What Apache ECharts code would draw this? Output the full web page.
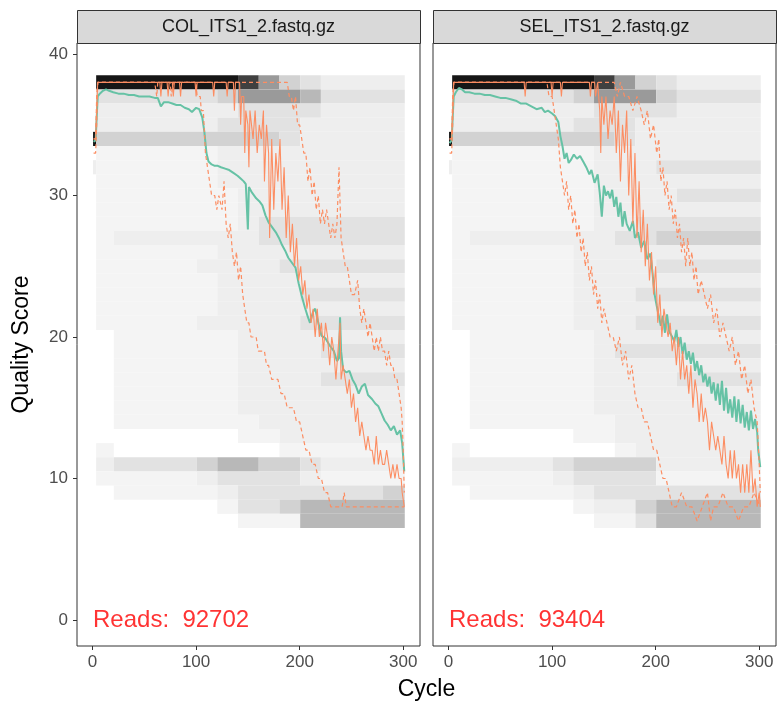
<!DOCTYPE html>
<html>
<head>
<meta charset="utf-8">
<script src="https://cdn.jsdelivr.net/npm/echarts@6/dist/echarts.min.js"></script>
<style>html,body{margin:0;padding:0;background:#fff;}#chart{width:778px;height:708px;}</style>
</head>
<body>
<div id="chart"></div>
<script>
// ---------------- DATA ----------------
const panelNames = ['COL_ITS1_2.fastq.gz', 'SEL_ITS1_2.fastq.gz'];
const reads = [92702, 93404];
const xTicks = [0, 100, 200, 300];
const yTicks = [0, 10, 20, 30, 40];

// cycle segments used for the read-count heat bands
const segStart = [1, 4, 21, 41, 61, 81, 101, 121, 141, 161, 181, 201, 221, 241, 261, 281];
const segEnd   = [3, 20, 40, 60, 80, 100, 120, 140, 160, 180, 200, 220, 240, 260, 280, 301];
const scoreRows = [38,37,36,35,34,33,32,31,30,29,28,27,26,25,24,23,22,21,20,19,18,17,16,15,14,13,12,11,10,9,8,7,6,5,4,3,2];

// relative read-count level (0 = none ... 9 = most reads) per score row and cycle segment
const colHeat = [
  [0,9,9,9,9,9,9,9,8,6,4,3,2,2,2,2],
  [0,3,3,3,3,3,3,4,6,6,6,5,3,3,3,3],
  [0,2,2,2,2,2,2,2,3,3,3,3,2,2,2,2],
  [0,2,2,2,2,2,2,3,3,3,3,2,2,2,2,2],
  [9,4,4,4,4,4,4,4,4,4,3,2,2,2,2,2],
  [0,1,1,1,1,1,1,2,2,2,2,2,2,2,2,2],
  [2,1,1,1,1,1,1,2,2,2,2,2,2,2,2,2],
  [0,1,1,1,1,1,1,2,2,2,2,2,2,2,2,2],
  [0,1,1,1,1,1,1,1,2,2,2,2,2,2,2,2],
  [0,1,1,1,1,1,1,1,2,2,2,2,2,2,2,2],
  [0,1,1,1,1,1,1,1,2,3,3,3,3,3,3,3],
  [0,1,2,2,2,2,2,2,2,3,3,3,3,3,3,3],
  [0,1,1,1,1,1,1,2,2,2,2,2,2,2,2,2],
  [0,1,1,1,1,1,2,2,2,2,3,3,3,3,3,3],
  [0,1,1,1,1,1,1,2,2,2,2,2,2,2,2,2],
  [0,1,1,1,1,1,1,2,2,2,2,3,3,3,3,3],
  [0,1,1,1,1,1,1,2,2,2,2,2,2,2,2,2],
  [0,1,1,1,1,1,2,2,2,2,2,3,3,3,3,3],
  [0,0,1,1,1,1,1,1,2,2,2,2,2,2,2,2],
  [0,0,1,1,1,1,1,1,2,2,2,2,3,3,3,3],
  [0,0,1,1,1,1,1,1,2,2,2,2,2,2,2,2],
  [0,0,1,1,1,1,1,1,2,2,2,2,3,3,3,3],
  [0,0,1,1,1,1,1,1,2,2,2,2,2,2,2,2],
  [0,0,1,1,1,1,1,1,2,2,2,2,2,2,2,2],
  [0,0,1,1,1,1,1,1,1,2,2,2,2,2,2,2],
  [0,0,0,0,0,0,0,0,1,1,2,2,2,2,2,2],
  [0,1,0,0,0,0,0,0,0,0,1,1,1,1,1,1],
  [0,2,3,3,3,3,4,5,5,4,4,3,2,2,2,2],
  [0,1,1,1,1,1,2,3,3,3,3,2,1,1,1,1],
  [0,0,1,1,1,1,1,2,3,3,3,3,3,3,3,4],
  [0,0,0,0,0,0,0,1,3,3,4,5,5,5,5,5],
  [0,0,0,0,0,0,0,0,1,1,1,5,5,5,5,5],
  [0,0,0,0,0,0,0,0,0,0,0,0,0,0,0,0],
  [0,0,0,0,0,0,0,0,0,0,0,0,0,0,0,0],
  [0,0,0,0,0,0,0,0,0,0,0,0,0,0,0,0],
  [0,0,0,0,0,0,0,0,0,0,0,0,0,0,0,0],
  [0,0,0,0,0,0,0,0,0,0,0,0,0,0,0,0]
];
const selHeat = [
  [0,9,9,9,9,9,9,9,8,6,4,3,2,2,2,2],
  [0,3,3,3,3,3,3,4,6,6,6,4,3,3,3,3],
  [0,2,2,2,2,2,2,2,3,3,3,3,2,2,2,2],
  [0,2,2,2,2,2,2,3,3,3,2,2,2,2,2,2],
  [9,4,4,4,4,4,4,4,4,3,2,2,2,2,2,2],
  [0,1,1,1,1,1,1,1,2,2,2,2,2,2,2,2],
  [2,1,1,1,1,1,1,1,2,2,2,3,3,3,3,3],
  [0,1,1,1,1,1,1,1,2,2,2,2,2,2,2,2],
  [0,1,1,1,1,1,1,1,2,2,2,2,3,3,3,3],
  [0,1,1,1,1,1,1,1,2,2,2,2,2,2,2,2],
  [0,1,1,1,1,1,1,1,2,2,3,3,3,3,3,3],
  [0,1,2,2,2,2,2,2,2,3,3,4,4,4,4,4],
  [0,1,1,1,1,1,1,2,2,2,2,2,2,2,2,2],
  [0,1,1,1,1,1,1,2,2,2,2,3,3,3,3,3],
  [0,1,1,1,1,1,1,2,2,2,2,2,2,2,2,2],
  [0,1,1,1,1,1,1,2,2,2,3,3,3,3,3,3],
  [0,1,1,1,1,1,1,2,2,2,2,2,2,2,2,2],
  [0,1,1,1,1,1,1,2,2,2,3,3,3,3,3,3],
  [0,0,1,1,1,1,1,1,2,2,2,2,2,2,2,2],
  [0,0,1,1,1,1,1,1,2,3,3,3,3,3,3,3],
  [0,0,1,1,1,1,1,1,2,2,2,2,2,2,2,2],
  [0,0,1,1,1,1,1,1,2,2,2,2,3,3,3,3],
  [0,0,1,1,1,1,1,1,2,2,2,2,2,2,2,2],
  [0,0,1,1,1,1,1,1,2,2,2,2,2,2,2,2],
  [0,0,1,1,1,1,1,1,1,2,2,2,2,2,2,2],
  [0,0,0,0,0,0,0,1,1,2,2,2,2,2,2,2],
  [0,1,0,0,0,0,0,0,0,1,2,2,2,2,2,2],
  [0,2,2,2,2,2,3,4,4,4,4,2,2,2,2,2],
  [0,1,1,1,1,1,2,3,3,3,3,1,1,1,1,1],
  [0,0,1,1,1,1,1,2,3,3,3,3,3,3,3,3],
  [0,0,0,0,0,0,0,1,2,2,4,5,5,5,5,5],
  [0,0,0,0,0,0,0,0,1,1,3,5,5,5,5,5],
  [0,0,0,0,0,0,0,0,0,0,0,0,0,0,0,0],
  [0,0,0,0,0,0,0,0,0,0,0,0,0,0,0,0],
  [0,0,0,0,0,0,0,0,0,0,0,0,0,0,0,0],
  [0,0,0,0,0,0,0,0,0,0,0,0,0,0,0,0],
  [0,0,0,0,0,0,0,0,0,0,0,0,0,0,0,0]
];

// [cycle, score] pairs
const colMean = [[1,33.8],[2,33.9],[3,33.9],[4,35.5],[5,37.0],[7,37.2],[10,37.4],[13,37.5],[16,37.4],[20,37.3],[25,37.2],[30,37.2],[35,37.1],[40,37.1],[45,37.0],[50,37.0],[55,37.0],[60,36.9],[63,36.9],[66,36.3],[69,36.6],[73,36.6],[77,36.5],[81,36.4],[85,36.4],[89,36.2],[93,36.1],[96,35.9],[100,36.2],[103,36.1],[106,35.5],[108,34.5],[110,33.0],[112,32.4],[115,32.2],[118,32.1],[121,32.1],[124,32.0],[128,31.9],[132,31.8],[136,31.6],[140,31.4],[143,31.2],[146,31.0],[148,30.8],[150,27.6],[151,30.6],[154,30.2],[158,29.8],[161,29.6],[164,29.3],[167,28.6],[170,28.1],[173,27.8],[177,27.4],[180,27.0],[183,26.5],[186,26.1],[189,25.6],[192,25.3],[196,24.9],[199,23.8],[202,22.9],[205,22.1],[208,21.4],[210,21.0],[213,21.8],[215,22.0],[218,21.0],[221,20.1],[225,19.9],[229,19.4],[233,19.0],[236,18.3],[238,18.5],[239,21.4],[240,19.0],[242,17.7],[245,17.5],[248,17.6],[251,17.0],[254,16.6],[257,16.0],[260,16.5],[263,16.7],[266,15.9],[270,15.6],[273,15.3],[276,15.1],[279,14.6],[282,14.1],[285,13.8],[288,13.4],[291,13.7],[294,13.1],[297,13.4],[299,12.5],[301,10.5]];
const colQ50 = [[1,34],[3,34],[4,36],[5,38],[65,38],[66,37],[67,38],[72,38],[73,37],[74,38],[77,38],[78,37],[79,38],[84,38],[85,37],[86,38],[99,38],[100,37],[101,38],[116,38],[117,37],[118,38],[129,38],[130,37],[131,38],[136,38],[137,36],[138,38],[142,38],[143,35],[144,37],[146,37],[147,33],[148,36],[150,35],[151,32],[152,36],[155,34],[157,36],[159,33],[161,35],[163,34],[165,36],[166,31],[168,35],[170,33],[171,27],[173,34],[175,29],[177,33],[179,31],[181,34],[183,29],[185,32],[187,27],[189,30],[191,26],[193,28],[195,25],[197,27],[199,24],[201,25],[203,23],[205,24],[207,22],[209,23],[211,21],[213,22],[215,20],[217,22],[219,20],[221,21],[223,19],[225,21],[227,20],[229,18],[231,20],[233,19],[235,17],[237,19],[239,21],[240,17],[242,18],[244,17],[246,16],[248,17],[250,15],[252,16],[254,14],[256,15],[258,13],[260,14],[262,13],[264,12],[266,13],[268,12],[270,12],[272,11],[274,13],[276,11],[278,12],[280,11],[282,11],[284,12],[286,11],[288,10],[290,11],[292,10],[294,11],[296,10],[298,10],[299,9],[301,8]];
const colQ25 = [[1,33],[3,33],[4,35],[5,38],[60,38],[62,37],[63,38],[75,38],[76,37],[78,38],[100,38],[101,37],[104,37],[105,36],[107,36],[109,33],[111,32],[113,31],[115,30],[118,30],[120,29],[122,30],[125,29],[127,31],[129,28],[131,27],[133,28],[135,26],[137,25],[139,26],[141,24],[143,25],[145,23],[147,22],[149,21],[151,21],[153,20],[155,20],[158,20],[160,19],[163,19],[166,19],[168,18],[170,18],[173,17],[176,17],[179,17],[182,16],[185,16],[188,15],[191,15],[194,15],[197,14],[200,14],[203,13],[206,12],[209,12],[212,11],[215,11],[218,10],[221,10],[224,9],[227,9],[230,8],[236,8],[241,8],[243,9],[245,8],[250,8],[260,8],[270,8],[280,8],[290,8],[301,8]];
const colQ75 = [[1,34],[3,34],[4,37],[5,38],[188,38],[190,37],[192,37],[194,36],[196,37],[198,35],[200,35],[202,34],[204,33],[206,33],[208,31],[210,32],[212,30],[214,31],[216,29],[218,30],[220,28],[222,29],[224,28],[226,29],[228,28],[230,27],[232,28],[234,27],[236,28],[238,32],[240,27],[242,26],[244,25],[246,25],[248,24],[250,23],[253,23],[256,24],[258,22],[260,21],[262,22],[264,21],[266,20],[268,21],[270,20],[272,19],[274,20],[276,19],[278,20],[280,19],[282,19],[284,18],[286,19],[288,18],[290,18],[292,17],[294,17],[296,16],[298,15],[299,14],[300,12],[301,9]];

const selMean = [[1,33.7],[2,33.8],[3,33.9],[4,35.5],[5,37.0],[7,37.3],[10,37.6],[13,37.5],[16,37.3],[20,37.3],[25,37.2],[30,37.2],[35,37.1],[40,37.1],[45,37.0],[50,36.9],[55,36.9],[60,36.8],[65,36.7],[70,36.5],[75,36.5],[80,36.3],[85,36.1],[90,36.2],[93,35.9],[96,36.0],[100,35.8],[103,35.6],[106,35.2],[108,34.2],[110,33.5],[112,32.6],[114,33.0],[116,32.3],[118,32.5],[121,32.9],[124,32.6],[127,32.8],[130,32.4],[133,32.0],[136,31.5],[138,31.8],[141,30.9],[144,31.5],[146,30.2],[148,28.5],[150,30.7],[152,30.0],[154,30.3],[156,29.8],[158,30.4],[160,29.2],[162,29.9],[164,28.5],[166,29.5],[168,27.8],[170,28.9],[172,28.0],[175,27.5],[178,28.2],[180,27.0],[183,27.4],[186,26.3],[189,26.8],[192,25.5],[195,25.9],[197,24.5],[199,23.0],[201,22.2],[203,21.5],[205,20.8],[207,21.5],[209,20.3],[211,21.6],[213,20.4],[216,20.0],[218,19.7],[220,20.5],[222,19.3],[224,20.0],[226,18.8],[228,19.6],[230,18.4],[232,19.0],[234,18.1],[236,18.9],[238,17.6],[240,18.3],[242,17.3],[244,18.0],[246,16.8],[248,17.4],[250,16.5],[252,17.2],[254,16.0],[256,16.8],[258,15.5],[260,16.7],[262,15.2],[264,16.9],[266,14.8],[268,16.4],[270,14.6],[272,15.6],[274,14.3],[276,15.8],[278,14.0],[280,15.6],[282,13.9],[284,15.2],[286,13.6],[288,14.7],[290,13.4],[292,14.8],[294,13.5],[296,14.2],[298,13.3],[299,12.0],[301,10.8]];
const selQ50 = [[1,34],[3,34],[4,36],[5,38],[73,38],[74,37],[75,38],[99,38],[100,37],[101,38],[108,38],[109,37],[110,38],[136,38],[137,37],[138,38],[141,38],[142,37],[144,38],[146,36],[147,33],[148,37],[150,35],[152,37],[154,34],[156,36],[158,35],[160,37],[162,33],[164,36],[166,31],[168,35],[170,33],[172,36],[174,30],[176,34],[178,28],[180,33],[182,27],[184,31],[186,26],[188,29],[190,25],[192,28],[194,24],[196,26],[198,23],[200,25],[202,21],[204,23],[206,20],[208,22],[210,21],[212,20],[214,21],[216,19],[218,20],[220,18],[222,20],[224,17],[226,19],[228,17],[230,18],[232,16],[234,18],[236,15],[238,17],[240,16],[242,14],[244,16],[246,14],[248,15],[250,14],[252,12],[254,14],[256,13],[258,12],[260,13],[262,12],[264,11],[266,13],[268,11],[270,10],[272,12],[274,10],[276,12],[278,10],[280,11],[282,9],[284,11],[286,9],[288,11],[290,9],[292,12],[294,9],[296,10],[298,8],[300,9],[301,8]];
const selQ25 = [[1,33],[3,33],[4,35],[5,38],[95,38],[97,37],[100,37],[102,36],[104,35],[106,34],[108,32],[110,31],[112,30],[114,31],[116,29],[118,30],[120,28],[122,29],[124,27],[126,28],[128,26],[130,27],[132,25],[134,26],[136,24],[138,25],[140,23],[142,24],[144,22],[146,23],[148,21],[150,22],[153,21],[156,20],[159,20],[162,19],[165,20],[168,18],[171,19],[174,17],[177,18],[180,16],[183,15],[186,15],[189,14],[192,14],[195,13],[198,12],[201,12],[204,11],[207,10],[210,10],[213,9],[216,8],[220,8],[225,9],[230,8],[235,8],[240,7],[245,8],[250,9],[253,7],[256,8],[260,8],[265,9],[270,8],[275,8],[280,7],[285,8],[290,8],[295,9],[301,8]];
const selQ75 = [[1,34],[3,34],[4,37],[5,38],[160,38],[163,37],[166,38],[170,37],[174,37],[178,36],[182,37],[186,36],[189,35],[192,36],[195,34],[198,35],[201,33],[203,34],[205,31],[207,32],[209,30],[211,31],[213,29],[215,30],[217,28],[219,29],[221,27],[223,28],[225,26],[227,27],[229,25],[231,27],[233,25],[235,26],[237,24],[239,25],[241,23],[244,24],[247,23],[250,22],[253,23],[256,21],[259,22],[262,20],[265,21],[268,20],[271,19],[274,20],[277,18],[280,19],[283,17],[286,18],[289,16],[292,17],[295,15],[298,14],[300,11],[301,9]];

// ---------------- CHART ----------------
const FONT = 'Liberation Sans, Arial, Helvetica, sans-serif';
const levelColors = ['none','#F4F4F4','#EEEEEE','#E2E2E2','#D2D2D2','#B8B8B8','#9A9A9A','#6E6E6E','#404040','#161616'];
const heats = [colHeat, selHeat];
const means = [colMean, selMean];
const q25s = [colQ25, selQ25];
const q50s = [colQ50, selQ50];
const q75s = [colQ75, selQ75];

const panelLeft = [77, 433];
const panelW = 343;
const panelTop = 43;
const panelH = 603;
const stripTop = 10;

function heatData(h) {
  const out = [];
  h.forEach((row, r) => {
    let j = 0;
    while (j < row.length) {
      const lv = row[j];
      let k = j;
      while (k + 1 < row.length && row[k + 1] === lv) k++;
      if (lv > 0) out.push([segStart[j], segEnd[k], scoreRows[r], lv]);
      j = k + 1;
    }
  });
  return out;
}

function renderHeat(params, api) {
  const p1 = api.coord([api.value(0) - 0.5, api.value(2) + 0.5]);
  const p2 = api.coord([api.value(1) + 0.5, api.value(2) - 0.5]);
  return {
    type: 'rect',
    shape: { x: p1[0], y: p1[1], width: p2[0] - p1[0], height: p2[1] - p1[1] },
    style: { fill: levelColors[api.value(3)] }
  };
}

const grids = [], xAxes = [], yAxes = [], series = [], graphics = [];
for (let i = 0; i < 2; i++) {
  grids.push({ left: panelLeft[i], top: panelTop, width: panelW, height: panelH, show: true,
    borderColor: '#333333', borderWidth: 1, backgroundColor: '#ffffff', containLabel: false });
  xAxes.push({ type: 'value', gridIndex: i, min: -15, max: 316.2, position: 'bottom',
    axisLine: { show: false, onZero: false },
    axisTick: { show: true, length: 4, lineStyle: { color: '#333333' }, customValues: xTicks },
    axisLabel: { show: true, color: '#4D4D4D', fontSize: 17, fontFamily: FONT, margin: 8, customValues: xTicks },
    splitLine: { show: false } });
  yAxes.push({ type: 'value', gridIndex: i, min: -1.84, max: 40.78, position: 'left',
    axisLine: { show: false, onZero: false },
    axisTick: { show: i === 0, length: 4, lineStyle: { color: '#333333' }, customValues: yTicks },
    axisLabel: { show: i === 0, color: '#4D4D4D', fontSize: 17, fontFamily: FONT, margin: 9, customValues: yTicks },
    splitLine: { show: false } });
  series.push({ type: 'custom', xAxisIndex: i, yAxisIndex: i, renderItem: renderHeat,
    data: heatData(heats[i]), encode: { x: [0, 1], y: 2 }, silent: true, z: 1, clip: true });
  series.push({ type: 'line', xAxisIndex: i, yAxisIndex: i, data: means[i], showSymbol: false, symbol: 'none',
    lineStyle: { color: '#66C2A5', width: 2 }, z: 3 });
  series.push({ type: 'line', xAxisIndex: i, yAxisIndex: i, data: q25s[i], showSymbol: false, symbol: 'none',
    lineStyle: { color: '#FC8D62', width: 1.2, type: [4, 3] }, z: 4 });
  series.push({ type: 'line', xAxisIndex: i, yAxisIndex: i, data: q50s[i], showSymbol: false, symbol: 'none',
    lineStyle: { color: '#FC8D62', width: 1.1 }, z: 4 });
  series.push({ type: 'line', xAxisIndex: i, yAxisIndex: i, data: q75s[i], showSymbol: false, symbol: 'none',
    lineStyle: { color: '#FC8D62', width: 1.2, type: [4, 3] }, z: 4 });
  series.push({ type: 'scatter', xAxisIndex: i, yAxisIndex: i, data: [[0, 0]], symbolSize: 1,
    itemStyle: { color: 'rgba(0,0,0,0)' }, z: 5, silent: true,
    label: { show: true, position: 'right', distance: 0, formatter: 'Reads:  ' + reads[i],
      color: '#FF0000', fontSize: 24, fontFamily: FONT } });
  // facet strip
  graphics.push({ type: 'rect', shape: { x: panelLeft[i] + 0.5, y: stripTop + 0.5, width: panelW, height: panelTop - stripTop },
    style: { fill: '#D9D9D9', stroke: '#333333', lineWidth: 1 } });
  graphics.push({ type: 'text', x: panelLeft[i] + panelW / 2, y: (stripTop + panelTop) / 2 + 1,
    style: { text: panelNames[i], fill: '#1A1A1A', font: '18px ' + FONT, align: 'center', verticalAlign: 'middle' } });
}
graphics.push({ type: 'text', x: 22, y: panelTop + panelH / 2, rotation: Math.PI / 2,
  style: { text: 'Quality Score', fill: '#000000', font: '23px ' + FONT, align: 'center', verticalAlign: 'middle' } });
graphics.push({ type: 'text', x: (panelLeft[0] + panelLeft[1] + panelW) / 2, y: 690,
  style: { text: 'Cycle', fill: '#000000', font: '23px ' + FONT, align: 'center', verticalAlign: 'middle' } });

const chart = echarts.init(document.getElementById('chart'), null, { renderer: 'canvas' });
chart.setOption({
  animation: false,
  backgroundColor: '#ffffff',
  grid: grids, xAxis: xAxes, yAxis: yAxes, series: series, graphic: graphics
});
</script>
</body>
</html>
